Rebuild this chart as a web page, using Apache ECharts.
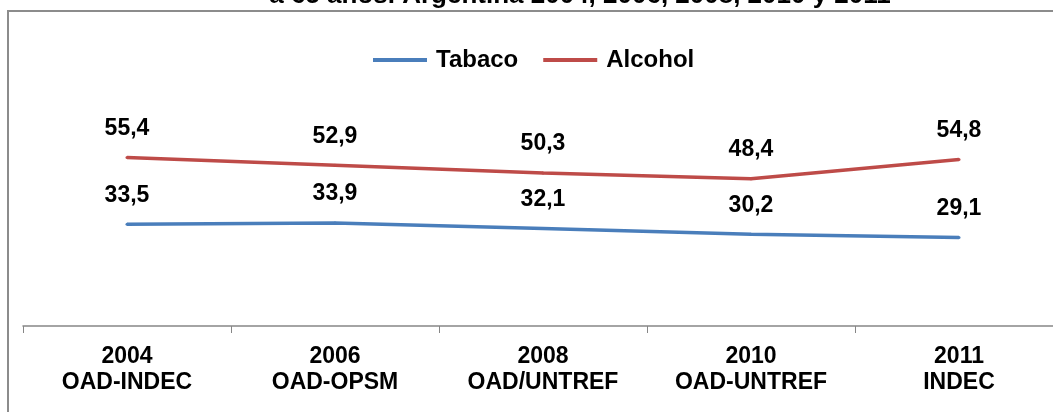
<!DOCTYPE html>
<html>
<head>
<meta charset="utf-8">
<script src="https://cdn.jsdelivr.net/npm/echarts@6/dist/echarts.min.js"></script>
<style>
  html, body { margin: 0; padding: 0; background: #fff; }
  #chart { width: 1053px; height: 412px; }
</style>
</head>
<body>
<div id="chart"></div>
<script>
// data
var years = ['2004', '2006', '2008', '2010', '2011'];
var sources = ['OAD-INDEC', 'OAD-OPSM', 'OAD/UNTREF', 'OAD-UNTREF', 'INDEC'];
var tabaco = [33.5, 33.9, 32.1, 30.2, 29.1];
var alcohol = [55.4, 52.9, 50.3, 48.4, 54.8];

var categories = years.map(function (y, i) { return y + '\n' + sources[i]; });

var font = 'Arial, "Liberation Sans", sans-serif';

function lineSeries(name, data, color) {
  return {
    name: name,
    type: 'line',
    data: data,
    // labels need a symbol; keep it tiny and same colour as the line
    symbol: 'circle',
    symbolSize: 3,
    lineStyle: { color: color, width: 3.5 },
    itemStyle: { color: color },
    label: {
      show: true,
      position: 'top',
      distance: 16,
      color: '#000',
      fontFamily: font,
      fontWeight: 'bold',
      fontSize: 23,
      formatter: function (p) { return String(p.value).replace('.', ','); }
    }
  };
}

var chart = echarts.init(document.getElementById('chart'));
chart.setOption({
  animation: false,
  backgroundColor: '#fff',
  graphic: [
    {
      type: 'rect',
      shape: { x: 8, y: 11, width: 1100, height: 500 },
      style: { fill: 'none', stroke: '#8c8c8c', lineWidth: 2 },
      silent: true
    },
    {
      type: 'text',
      x: 580,
      y: 9,
      style: {
        text: 'a 65 años. Argentina 2004, 2006, 2008, 2010 y 2011',
        font: 'bold 26px ' + font,
        fill: '#000',
        align: 'center',
        verticalAlign: 'bottom'
      },
      silent: true
    }
  ],
  legend: {
    top: 43,
    left: 368,
    itemWidth: 54,
    itemHeight: 4,
    itemGap: 25,
    icon: 'rect',
    textStyle: { fontFamily: font, fontWeight: 'bold', fontSize: 24, color: '#000', padding: [0, 0, 0, 4] },
    data: ['Tabaco', 'Alcohol']
  },
  grid: { left: 23, width: 1040, top: 22, bottom: 86, outerBoundsMode: 'none' },
  xAxis: {
    type: 'category',
    data: categories,
    boundaryGap: true,
    axisLine: { lineStyle: { color: '#868686', width: 1.5 } },
    axisTick: { show: true, interval: 0, length: 7, lineStyle: { color: '#868686' } },
    axisLabel: {
      interval: 0,
      margin: 18,
      lineHeight: 26,
      color: '#000',
      fontFamily: font,
      fontWeight: 'bold',
      fontSize: 23
    }
  },
  yAxis: {
    type: 'value',
    min: 0,
    max: 100,
    show: false
  },
  series: [
    lineSeries('Tabaco', tabaco, '#4a7ebb'),
    lineSeries('Alcohol', alcohol, '#be4b48')
  ]
});
</script>
</body>
</html>
